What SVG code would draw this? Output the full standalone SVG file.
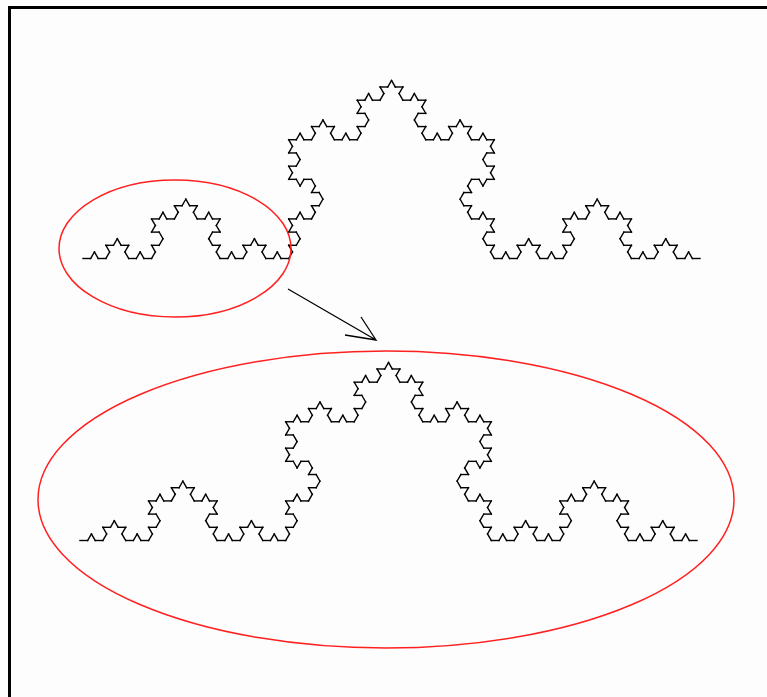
<svg xmlns="http://www.w3.org/2000/svg" xmlns:xlink="http://www.w3.org/1999/xlink" width="767" height="697" viewBox="0 0 767 697">
<style>
.koch{fill:none;stroke:#000;stroke-width:1.4;stroke-linecap:square}
.ring{fill:none;stroke:#ff2020;stroke-width:1.5}
.frame{fill:none;stroke:#000;stroke-width:3}
.arrow{fill:none;stroke:#000;stroke-width:1.3}
</style>
<defs>
<path id="k0" class="koch" d="M0,0 H7.6173"/>
<g id="k1">
<use xlink:href="#k0"/>
<use xlink:href="#k0" transform="translate(7.6173,0) rotate(-60)"/>
<use xlink:href="#k0" transform="translate(11.42595,-6.5968) rotate(60)"/>
<use xlink:href="#k0" transform="translate(15.2346,0)"/>
</g>
<g id="k2">
<use xlink:href="#k1"/>
<use xlink:href="#k1" transform="translate(22.8519,0) rotate(-60)"/>
<use xlink:href="#k1" transform="translate(34.2778,-19.7903) rotate(60)"/>
<use xlink:href="#k1" transform="translate(45.7037,0)"/>
</g>
<g id="k3">
<use xlink:href="#k2"/>
<use xlink:href="#k2" transform="translate(68.5556,0) rotate(-60)"/>
<use xlink:href="#k2" transform="translate(102.8333,-59.3709) rotate(60)"/>
<use xlink:href="#k2" transform="translate(137.1111,0)"/>
</g>
<g id="k4">
<use xlink:href="#k3"/>
<use xlink:href="#k3" transform="translate(205.6667,0) rotate(-60)"/>
<use xlink:href="#k3" transform="translate(308.5,-178.1126) rotate(60)"/>
<use xlink:href="#k3" transform="translate(411.3333,0)"/>
</g>
</defs>
<rect width="767" height="697" fill="#fdfdfd"/>
<g id="frame">
<line class="frame" x1="8" y1="7.5" x2="767" y2="7.5"/>
<line class="frame" x1="9.5" y1="6" x2="9.5" y2="697"/>
</g>
<g id="koch-top">
<use xlink:href="#k4" transform="translate(83,258.5)"/>
</g>
<g id="koch-bottom">
<use xlink:href="#k4" transform="translate(80,540.5)"/>
</g>
<g id="ellipse-small">
<ellipse class="ring" cx="175" cy="248.5" rx="116" ry="68.5"/>
</g>
<g id="ellipse-large">
<ellipse class="ring" cx="386" cy="499.5" rx="348" ry="148.5"/>
</g>
<g id="connectors">
<path class="arrow" d="M288,289 L376,340 M361,317 L376,340 L345,335"/>
</g>
</svg>
